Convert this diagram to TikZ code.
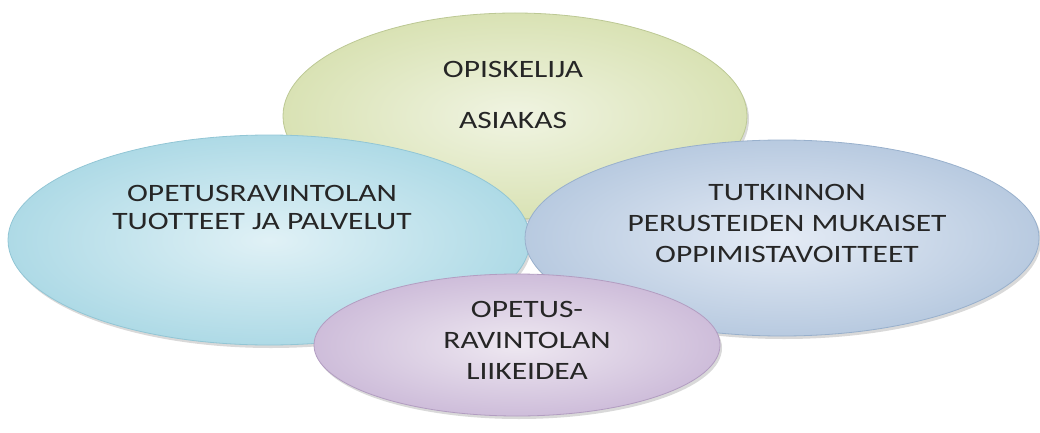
\documentclass[tikz,border=0pt]{standalone}
\usepackage{fontspec}
\setmainfont{Carlito}
\usetikzlibrary{shapes.geometric,shadows}
\definecolor{grnin}{HTML}{F0F4E2}
\definecolor{grnout}{HTML}{D9E2B4}
\definecolor{grnedge}{HTML}{BCC894}
\definecolor{cyin}{HTML}{E0F1F6}
\definecolor{cyout}{HTML}{AEDAE6}
\definecolor{cyedge}{HTML}{92C6D5}
\definecolor{blin}{HTML}{E4EBF5}
\definecolor{blout}{HTML}{B8CAE0}
\definecolor{bledge}{HTML}{98B0CC}
\definecolor{puin}{HTML}{EEE8F1}
\definecolor{puout}{HTML}{CEBDDA}
\definecolor{puedge}{HTML}{B29DC1}
\tikzset{
  bubble/.style={ellipse, inner sep=0pt, line width=0.8pt,
    drop shadow={opacity=0.3, shadow xshift=2pt, shadow yshift=-3pt}},
  label text/.style={font=\fontsize{25}{31}\selectfont, align=center,
    text=black!85, xscale=1.26, transform shape}
}
\begin{document}
\begin{tikzpicture}[x=1pt,y=-1pt]
  \useasboundingbox (0,0) rectangle (1040,433);
  % four overlapping ellipses, back to front
  \node[bubble, draw=grnedge, inner color=grnin, outer color=grnout,
        minimum width=464pt, minimum height=206pt] (student) at (515,116) {};
  \node[bubble, draw=cyedge, inner color=cyin, outer color=cyout,
        minimum width=522pt, minimum height=210pt] (products) at (269,240) {};
  \node[bubble, draw=bledge, inner color=blin, outer color=blout,
        minimum width=514pt, minimum height=196pt] (goals) at (782,238) {};
  \node[bubble, draw=puedge, inner color=puin, outer color=puout,
        minimum width=406pt, minimum height=142pt] (idea) at (517,345) {};
  % texts
  \node[label text] (t1) at (513,95) {OPISKELIJA\\[20pt]ASIAKAS};
  \node[label text] (t2) at (262,207) {OPETUSRAVINTOLAN\\[-3pt]TUOTTEET JA PALVELUT};
  \node[label text] (t3) at (787,223) {TUTKINNON\\PERUSTEIDEN MUKAISET\\OPPIMISTAVOITTEET};
  \node[label text] (t4) at (527,340) {OPETUS-\\RAVINTOLAN\\LIIKEIDEA};
\end{tikzpicture}
\end{document}
